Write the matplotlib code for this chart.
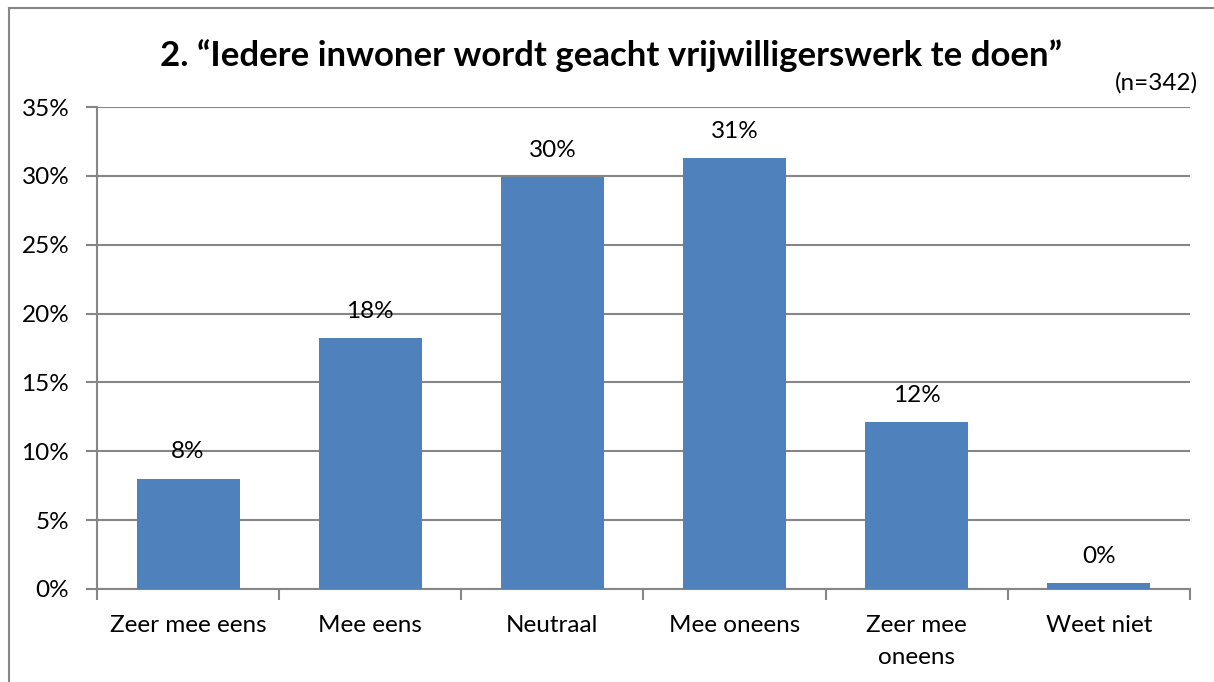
import matplotlib.pyplot as plt
from matplotlib.lines import Line2D
from matplotlib.ticker import MultipleLocator, FuncFormatter

categories = ['Zeer mee eens', 'Mee eens', 'Neutraal', 'Mee oneens', 'Zeer mee\noneens', 'Weet niet']
values = [8.0, 18.2, 29.9, 31.3, 12.1, 0.4]
labels = ['8%', '18%', '30%', '31%', '12%', '0%']
title = '2. \u201cIedere inwoner wordt geacht vrijwilligerswerk te doen\u201d'
note = '(n=342)'

plt.rcParams['font.family'] = ['Lato', 'DejaVu Sans']
grid_color = '#868686'
bar_color = '#4F81BD'
fs = 17.5

fig = plt.figure(figsize=(12.14, 6.82), dpi=100)
ax = fig.add_axes([0.0799, 0.1364, 0.9003, 0.7067])

x = range(len(categories))
ax.bar(x, values, width=0.566, color=bar_color, zorder=3)
for i, (v, lab) in enumerate(zip(values, labels)):
    ax.text(i, v + 1.95, lab, ha='center', va='center', fontsize=fs)

ax.set_xlim(-0.5, len(categories) - 0.5)
ax.set_ylim(0, 35)
ax.yaxis.set_major_locator(MultipleLocator(5))
ax.yaxis.set_major_formatter(FuncFormatter(lambda v, p: f'{v:.0f}%'))
ax.grid(axis='y', color=grid_color, linewidth=1.5, zorder=0)

ax.set_xticks([i - 0.5 for i in range(len(categories) + 1)])
ax.set_xticklabels([])
ax.set_xticks(list(x), minor=True)
ax.set_xticklabels(categories, minor=True, fontsize=fs, linespacing=1.6)
ax.tick_params(axis='x', which='minor', length=0, pad=19)
ax.tick_params(axis='x', which='major', length=8, width=1.5, color=grid_color)
ax.tick_params(axis='y', length=8, width=1.5, color=grid_color, labelsize=fs, pad=12)

for side in ['top', 'right']:
    ax.spines[side].set_visible(False)
for side in ['left', 'bottom']:
    ax.spines[side].set_color(grid_color)
    ax.spines[side].set_linewidth(1.5)

fig.text(0.503, 0.919, title, ha='center', va='center', fontsize=25, fontweight='bold')
fig.text(0.987, 0.878, note, ha='right', va='center', fontsize=fs)

# outer chart border
fig.add_artist(Line2D([9 / 1214, 9 / 1214], [0, 1 - 8 / 682], color=grid_color, linewidth=1.5))
fig.add_artist(Line2D([9 / 1214, 1], [1 - 8 / 682, 1 - 8 / 682], color=grid_color, linewidth=1.5))

fig.savefig('out.png', dpi=100)
